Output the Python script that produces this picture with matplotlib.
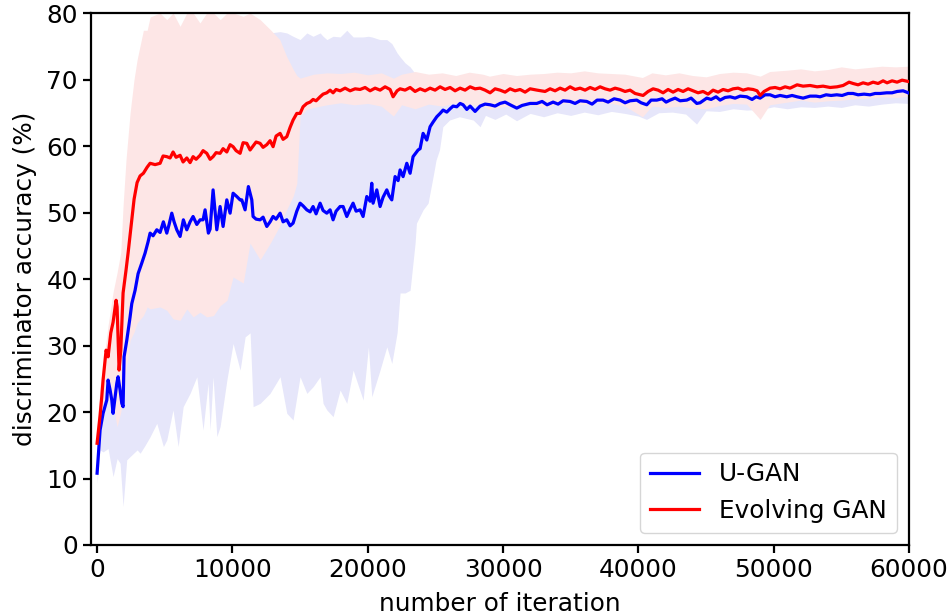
#!/usr/bin/env python

import numpy as np
import matplotlib
matplotlib.use('Agg')
import matplotlib.pyplot as plt

# ----------------
# DATA
# ----------------

# U-GAN mean discriminator accuracy
ugan_x = [0, 222, 443, 717, 813, 961, 1086, 1182, 1330, 1456, 1552, 1700, 1825, 1921,
          1995, 2195, 2439, 2564, 2808, 3030, 3303, 3547, 3769, 3917, 4138, 4412, 4656,
          4899, 5151, 5321, 5520, 5690, 5890, 6134, 6377, 6629, 6873, 7094, 7368, 7612,
          7833, 7981, 8225, 8351, 8572, 8846, 9090, 9311, 9585, 9829, 10050, 10324, 10568,
          10693, 10937, 11181, 11432, 11528, 11750, 12046, 12267, 12541, 12785, 13006,
          13228, 13524, 13745, 14019, 14263, 14484, 14758, 15002, 15223, 15497, 15740,
          15962, 16184, 16480, 16701, 16975, 17219, 17440, 17662, 17958, 18180, 18453,
          18697, 18918, 19140, 19436, 19657, 19931, 20175, 20298, 20396, 20670, 20914,
          21135, 21409, 21579, 21778, 22022, 22244, 22392, 22613, 22887, 23131, 23352,
          23722, 23870, 24092, 24365, 24609, 24830, 25104, 25348, 25569, 25843, 26087,
          26308, 26582, 26826, 27047, 27321, 27565, 27934, 28304, 28673, 29043, 29412,
          29782, 30151, 30521, 31014, 31408, 31999, 32492, 32886, 33255, 33698, 34068,
          34437, 34955, 35324, 35694, 36187, 36580, 36950, 37393, 37763, 38206, 38650,
          39019, 39389, 39882, 40202, 40621, 40941, 41362, 41754, 42049, 42345, 42714,
          43084, 43577, 43897, 44316, 44561, 45054, 45374, 45744, 46040, 46409, 46779,
          47148, 47518, 48011, 48405, 48700, 48996, 49365, 49735, 50104, 50474, 50966,
          51360, 51730, 52173, 52690, 53134, 53430, 53873, 54243, 54662, 55055, 55499,
          55867, 56237, 56680, 57124, 57493, 57863, 58356, 58750, 59119, 59563, 59950]
ugan_acc = [10.8, 17.3, 19.8, 21.8, 24.8, 23.3, 21.8, 19.8, 22.3, 24.3, 25.3, 23.3, 21.3, 20.8,
            28.3, 30.8, 34.3, 36.3, 38.3, 40.8, 42.4, 43.9, 45.6, 46.9, 46.5, 47.4, 47.0,
            48.6, 46.9, 48.2, 49.9, 48.6, 47.4, 46.4, 48.9, 47.4, 48.6, 49.4, 48.2, 48.9,
            48.9, 50.4, 46.9, 47.5, 53.4, 47.4, 50.9, 47.9, 51.9, 49.9, 52.9, 52.4, 51.9,
            51.9, 50.4, 53.9, 51.9, 49.4, 49.0, 48.9, 49.3, 47.9, 48.6, 49.4,
            49.0, 49.9, 48.6, 48.9, 48.0, 48.4, 50.2, 51.4, 51.0, 50.4, 50.1,
            50.9, 49.8, 51.4, 50.3, 49.9, 50.4, 48.9, 50.2, 50.9, 50.9, 49.4,
            50.5, 51.4, 50.2, 50.4, 49.4, 52.4, 51.7, 54.4, 51.4, 53.4, 50.9,
            52.3, 53.4, 52.5, 51.9, 55.4, 54.8, 56.4, 55.4, 57.4, 55.9, 58.4,
            59.4, 59.6, 61.9, 60.9, 62.9, 63.6, 64.4, 64.9, 65.4, 65.1, 65.6,
            66.0, 65.9, 66.4, 66.2, 65.5, 66.0, 65.2, 66.0, 66.3, 66.2, 66.0,
            66.4, 66.6, 66.2, 65.7, 66.1, 66.4, 66.4, 66.7, 66.2, 66.6, 66.3,
            66.8, 66.7, 66.4, 66.8, 66.7, 66.3, 66.9, 66.9, 66.6, 67.1, 66.9,
            66.5, 66.8, 66.9, 66.5, 66.2, 66.9, 66.9, 67.1, 66.6, 66.9, 67.2,
            66.8, 66.9, 67.2, 66.4, 66.5, 67.2, 67.0, 67.4, 66.9, 67.3, 67.4,
            67.2, 67.5, 67.4, 67.0, 67.4, 67.2, 67.7, 67.7, 67.4, 67.6, 67.4,
            67.6, 67.4, 67.2, 67.5, 67.5, 67.4, 67.7, 67.6, 67.7, 67.6, 67.9,
            67.9, 67.7, 67.8, 67.7, 67.9, 67.9, 68.0, 68.0, 68.2, 68.3, 68.0]

# U-GAN spread (lower / upper edge of shaded band)
ugan_band_x = [0, 220, 440, 810, 1180, 1480, 1700, 1920, 2190, 2440, 2960, 3180, 3550, 3920,
               4410, 4900, 5150, 5610, 5990, 6360, 6870, 7370, 7830, 8200, 8350, 8570, 8850,
               9090, 9590, 10050, 10570, 10940, 11310, 11530, 12050, 12780, 13520, 14020,
               14480, 15000, 15500, 15960, 16480, 16700, 16980, 17440, 17960, 18450, 18920,
               19660, 20050, 20300, 20910, 21410, 21780, 22170, 22390, 22760, 23130, 23500,
               23600, 24090, 24460, 24830, 25050, 25300, 25550, 26040, 26780, 27800, 28300,
               28700, 29400, 30200, 31000, 32000, 33000, 34000, 35000, 36000, 37000, 38000,
               39000, 40000, 40600, 41500, 42500, 43500, 44300, 45000, 46000, 47000, 48000,
               49000, 50000, 51000, 52000, 53000, 54000, 55000, 56000, 57000, 58000, 59000,
               60000]
ugan_lo = [9.3, 14.3, 14.0, 14.5, 10.3, 13.0, 12.3, 5.8, 12.8, 13.3, 14.3, 13.8, 15.0, 16.3,
           18.3, 14.8, 15.8, 20.3, 14.8, 20.8, 22.8, 25.3, 17.3, 24.3, 17.3, 25.3, 16.3,
           17.8, 24.8, 30.3, 26.3, 31.3, 31.9, 20.8, 21.3, 22.8, 25.3, 19.8,
           18.8, 25.3, 22.8, 23.8, 25.3, 21.3, 20.3, 19.3, 23.3, 21.3, 26.3,
           21.8, 29.8, 22.3, 26.3, 29.8, 27.3, 31.9, 37.9, 37.9, 38.3, 45.4,
           48.4, 50.4, 51.4, 55.4, 57.9, 59.4, 62.9, 63.9, 64.4, 63.9, 62.9,
           64.6, 64.0, 64.8, 63.8, 64.9, 64.4, 65.0, 64.6, 65.1, 64.7, 65.2,
           64.9, 64.5, 64.0, 65.0, 65.1, 64.8, 63.3, 65.3, 65.2, 65.6, 65.4,
           65.5, 65.9, 65.6, 65.9, 65.8, 66.0, 65.8, 66.2, 66.0, 66.3, 66.5,
           66.4]
ugan_hi = [12.5, 20.0, 24.0, 30.0, 28.0, 32.0, 30.0, 32.0, 42.0, 50.0, 60.0, 65.0, 70.0, 72.0,
           74.0, 75.0, 75.0, 76.0, 76.0, 76.0, 77.0, 77.0, 77.0, 77.0, 77.0, 77.0, 77.0,
           77.0, 77.0, 77.0, 77.0, 77.0, 77.0, 76.5, 76.4, 77.0, 77.2, 77.0,
           76.5, 76.0, 77.0, 76.5, 77.0, 76.5, 76.0, 76.5, 76.4, 77.4, 76.4,
           76.4, 76.5, 76.4, 76.0, 76.0, 75.4, 74.0, 73.4, 72.5, 71.9, 70.9,
           70.4, 70.2, 70.0, 69.9, 69.9, 69.8, 69.7, 69.7, 69.5, 69.3, 69.4,
           69.2, 69.0, 69.3, 69.0, 69.4, 69.0, 69.5, 69.6, 69.4, 69.7, 69.6,
           69.3, 69.5, 69.0, 69.6, 69.5, 69.6, 69.0, 69.9, 69.7, 69.8, 69.8,
           69.9, 69.6, 69.8, 69.6, 69.7, 69.8, 69.9, 69.9, 69.7, 70.0, 70.1,
           69.9]

# Evolving GAN mean discriminator accuracy
evo_x = [0, 222, 347, 443, 665, 813, 1012, 1182, 1404, 1478, 1626, 1751, 1921, 2143, 2291,
         2513, 2734, 2956, 3178, 3422, 3695, 3917, 4286, 4656, 4877, 5151, 5395, 5616, 5838,
         6134, 6355, 6629, 6873, 7094, 7316, 7612, 7833, 8107, 8351, 8572, 8794, 9090, 9311,
         9585, 9829, 10050, 10272, 10568, 10789, 11063, 11307, 11528, 11750, 12046, 12267,
         12541, 12785, 13006, 13228, 13524, 13745, 14019, 14263, 14484, 14758, 15002, 15223,
         15497, 15740, 15962, 16184, 16480, 16701, 16975, 17219, 17440, 17662, 17958, 18327,
         18697, 19066, 19436, 19805, 20175, 20544, 20914, 21283, 21653, 21874, 22170, 22392,
         22761, 23131, 23500, 23870, 24239, 24609, 24978, 25348, 25717, 26087, 26456, 26826,
         27195, 27565, 27934, 28304, 28673, 29043, 29412, 29782, 30151, 30521, 30890, 31260,
         31629, 31999, 32516, 33107, 33477, 33846, 34216, 34585, 34955, 35324, 35694, 36063,
         36433, 36802, 37172, 37541, 37911, 38280, 38650, 39019, 39389, 39758, 40349, 40719,
         41088, 41458, 41827, 42197, 42566, 42936, 43305, 43675, 44044, 44414, 44783, 45153,
         45522, 45892, 46261, 46631, 47000, 47370, 47739, 48109, 48478, 48774, 48996, 49291,
         49735, 50104, 50474, 50843, 51213, 51730, 52173, 52690, 53208, 53651, 54168, 54685,
         55129, 55572, 55867, 56237, 56606, 56976, 57345, 57715, 58084, 58380, 58750, 59119,
         59489, 59950]
evo_acc = [15.3, 19.5, 22.3, 24.8, 29.3, 28.3, 31.9, 33.5, 36.8, 35.8, 26.3, 29.3, 37.9, 41.4, 43.9,
           48.0, 52.0, 54.5, 55.5, 55.9, 56.8, 57.4, 57.2, 57.4, 58.5, 58.4, 58.2, 59.1, 58.3,
           58.6, 57.6, 58.2, 57.5, 58.4, 58.0, 58.6, 59.3, 58.9, 58.0, 58.4, 59.0, 58.9, 59.6,
           59.1, 60.2, 59.9, 59.3, 58.9, 60.5, 60.4, 59.4, 60.0, 60.6, 60.4, 59.8,
           60.2, 60.8, 59.9, 61.5, 61.9, 61.0, 61.4, 62.8, 63.9, 64.9, 64.9, 65.9,
           66.4, 66.6, 67.0, 66.8, 67.4, 67.8, 68.0, 68.4, 68.0, 68.5, 68.3, 68.7,
           68.3, 68.6, 68.5, 68.8, 68.3, 68.7, 68.4, 68.9, 68.5, 67.4, 68.3, 68.6,
           68.4, 68.8, 68.2, 68.6, 68.3, 68.7, 68.4, 68.9, 68.5, 68.8, 68.3, 68.7,
           68.4, 68.9, 68.6, 68.7, 68.4, 68.0, 68.6, 68.4, 68.1, 68.6, 68.3, 68.5,
           68.1, 68.6, 68.4, 68.2, 68.6, 68.3, 68.7, 68.4, 68.9, 68.5, 68.7, 68.4,
           68.8, 68.5, 68.9, 68.6, 68.4, 68.7, 68.5, 68.2, 68.4, 67.9, 67.6, 68.2,
           68.6, 68.4, 68.0, 68.5, 68.1, 68.5, 68.2, 68.6, 68.3, 68.0, 68.2, 67.8,
           68.4, 68.1, 68.5, 68.3, 68.6, 68.7, 68.4, 68.6, 68.5, 68.3, 67.6, 68.2,
           68.7, 68.8, 68.6, 68.9, 68.7, 69.2, 69.0, 69.1, 68.9, 69.0, 68.8, 68.9,
           69.1, 69.6, 69.4, 69.2, 69.5, 69.3, 69.6, 69.4, 69.8, 69.5, 69.8, 69.6,
           69.9, 69.7]

# Evolving GAN spread
evo_band_x = [0, 220, 440, 810, 1180, 1480, 1750, 1920, 2140, 2440, 2730, 2960, 3420, 3700,
              3920, 4650, 5150, 5620, 6130, 6630, 7100, 7600, 8100, 8600, 9100, 9600, 10050,
              10800, 11300, 12050, 12800, 13500, 14000, 14500, 14760, 15000, 15500, 16000,
              17000, 18000, 19000, 20000, 21000, 21900, 22500, 23500, 24500, 25500, 26500,
              27500, 28500, 29000, 30000, 31000, 32000, 33000, 34000, 35000, 36000, 37000,
              38000, 39000, 40300, 41000, 42000, 43000, 44000, 45000, 46000, 47000, 48000,
              49000, 49700, 51000, 52000, 53000, 54000, 55000, 56000, 57000, 58000, 59000,
              60000]
evo_lo = [14.0, 17.0, 19.0, 22.0, 21.0, 17.8, 20.0, 22.3, 26.0, 30.8, 32.0, 33.4, 34.5, 35.8,
          35.5, 35.8, 35.3, 34.0, 33.8, 35.5, 34.3, 35.0, 34.3, 34.5, 36.0, 36.8, 40.3,
          39.4, 45.4, 42.9, 45.4, 48.0, 50.4, 52.5, 54.4, 64.5, 65.5, 65.8,
          66.2, 66.5, 66.2, 66.4, 66.0, 64.5, 66.2, 65.6, 66.3, 66.0, 66.5,
          66.2, 66.0, 65.5, 65.9, 66.0, 66.2, 65.8, 66.3, 66.5, 66.2, 66.6,
          66.4, 66.0, 64.4, 66.0, 65.8, 66.0, 65.7, 65.6, 66.1, 66.4, 66.3,
          64.0, 66.2, 66.6, 66.9, 66.6, 66.8, 66.9, 67.1, 67.2, 67.4, 67.3,
          67.5]
evo_hi = [17.5, 24.0, 27.0, 33.0, 38.0, 41.0, 44.0, 51.0, 58.0, 65.0, 70.0, 73.0, 77.4, 77.4,
          79.4, 80.0, 79.0, 80.0, 78.0, 80.0, 80.0, 78.5, 80.0, 80.0, 79.0, 80.0, 80.0,
          79.5, 80.0, 79.0, 77.5, 76.0, 73.5, 71.5, 70.6, 70.2, 70.5, 70.8,
          71.0, 70.9, 71.1, 70.7, 71.0, 70.2, 70.8, 71.2, 70.8, 71.0, 70.6,
          71.1, 70.8, 70.5, 70.9, 70.6, 70.8, 70.9, 71.1, 71.0, 71.3, 71.0,
          70.9, 70.8, 70.3, 71.0, 70.7, 71.0, 70.6, 70.4, 70.9, 71.1, 71.0,
          70.5, 71.2, 71.4, 71.6, 71.3, 71.5, 71.9, 71.6, 71.8, 72.0, 71.9,
          72.0]

x_ticks = [0, 10000, 20000, 30000, 40000, 50000, 60000]
y_ticks = [0, 10, 20, 30, 40, 50, 60, 70, 80]

# ----------------
# Plot
# ----------------

plt.rcParams['font.family'] = 'DejaVu Sans'
plt.rcParams['font.size'] = 17.8

fig = plt.figure(figsize=(9.49, 6.15), dpi=100)
ax = fig.add_axes([91 / 949, 70 / 615, 818 / 949, 532 / 615])

# shaded spreads, drawn opaque so the red one sits on top of the blue one
ax.fill_between(ugan_band_x, ugan_lo, ugan_hi, color='#e6e6fa', linewidth=0, zorder=1)
ax.fill_between(evo_band_x, evo_lo, evo_hi, color='#fde6e6', linewidth=0, zorder=2)

ax.plot(ugan_x, ugan_acc, color='blue', lw=2.3, label='U-GAN', zorder=3)
ax.plot(evo_x, evo_acc, color='red', lw=2.3, label='Evolving GAN', zorder=4)

ax.set_xlim(-450, 60000)
ax.set_ylim(0, 80)
ax.set_xticks(x_ticks)
ax.set_yticks(y_ticks)
ax.set_xlabel('number of iteration', labelpad=7)
ax.set_ylabel('discriminator accuracy (%)', labelpad=7)

for s in ax.spines.values():
    s.set_linewidth(1.6)
ax.tick_params(width=1.6, length=6)

ax.legend(loc='lower right', fontsize=17.8)

fig.savefig('out.png', dpi=100)
plt.close(fig)
